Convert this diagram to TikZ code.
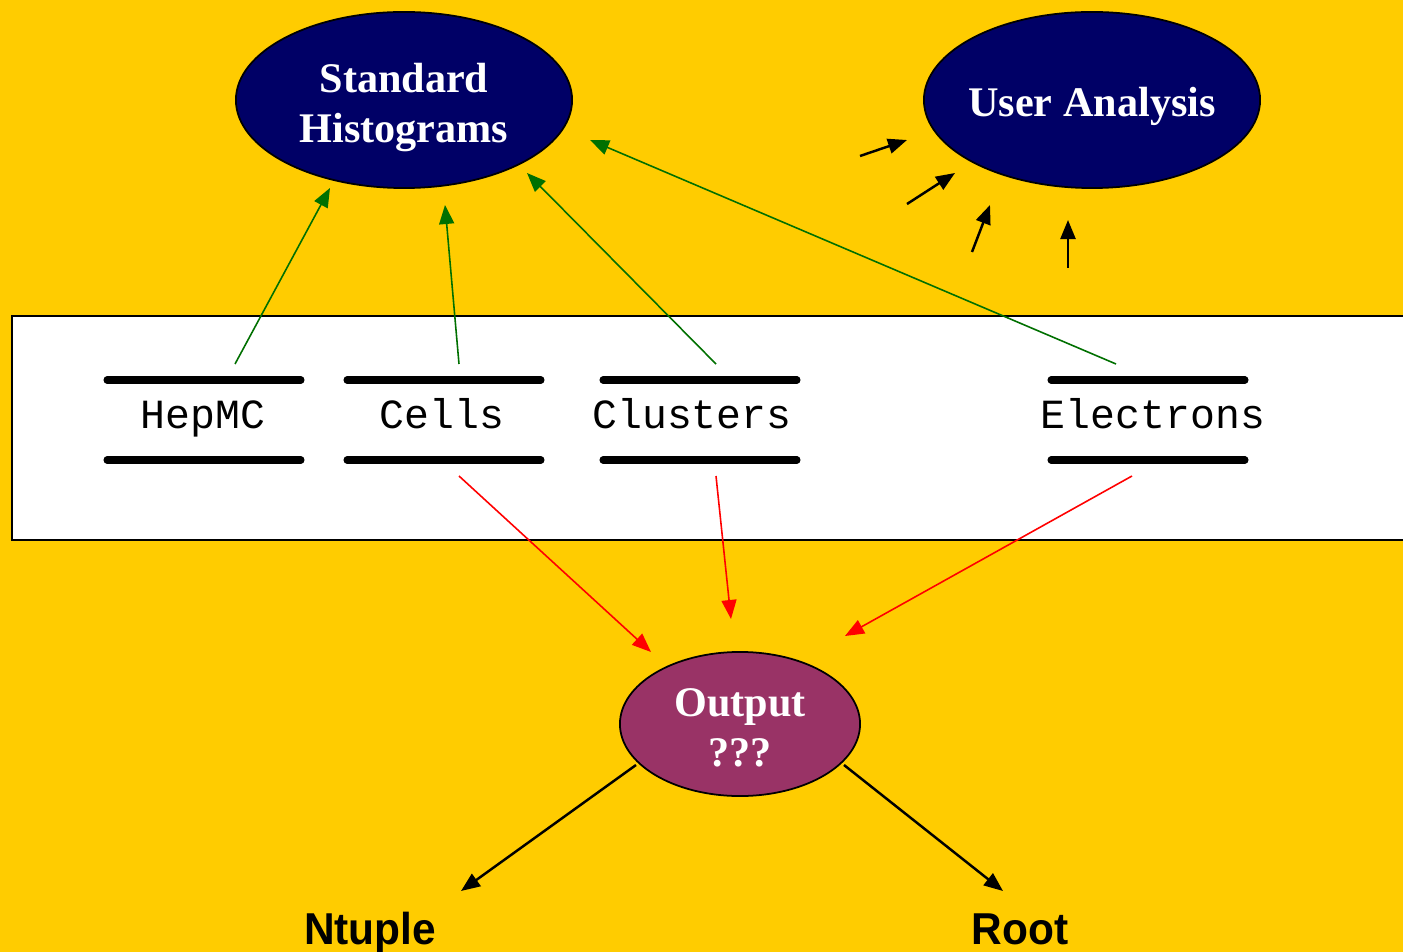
\documentclass[tikz,border=0pt]{standalone}
\usepackage{fontspec}
\setmainfont{Liberation Serif}
\setsansfont{Liberation Sans}
\setmonofont{Liberation Mono}
\usetikzlibrary{shapes.geometric,arrows.meta}

\definecolor{bgyellow}{HTML}{FFCC00}
\definecolor{navyfill}{HTML}{000066}
\definecolor{plumfill}{HTML}{993366}
\definecolor{linkgreen}{HTML}{007000}
\newcommand{\narrowlabel}[1]{\scalebox{0.95}[1]{#1}}

\begin{document}
\begin{tikzpicture}[x=0.01cm,y=-0.01cm,
        blob/.style={ellipse,draw=black,line width=0.5pt,inner sep=0pt,
            text=white,align=center,font=\fontsize{12}{14.3}\selectfont\bfseries},
        store/.style={anchor=base,inner sep=0pt,
            font=\fontsize{11.8}{14}\selectfont\ttfamily},
        bar/.style={line width=2pt,line cap=round},
        fill arrow/.style={-{Triangle[length=1.9mm,width=1.5mm]}},
        toplot/.style={fill arrow,draw=linkgreen,line width=0.45pt},
        tofile/.style={fill arrow,draw=red,line width=0.45pt},
        touser/.style={fill arrow,draw=black,line width=0.7pt},
        outlabel/.style={anchor=base,inner sep=0pt,font=\fontsize{12.7}{14}\selectfont\sffamily\bfseries}]
                \useasboundingbox (0,0) rectangle (1403,952);
                \clip (0,0) rectangle (1403,952);
                \fill[bgyellow] (0,0) rectangle (1403,952);
                \draw[fill=white,line width=0.5pt] (12,316) rectangle (1420,540);

                % ellipses
                \node[blob,fill=navyfill,minimum width=3.36cm,minimum height=1.76cm]
                    (hist) at (404,100) {\rule{0pt}{12.5pt}Standard\\Histograms};
                \node[blob,fill=navyfill,minimum width=3.36cm,minimum height=1.76cm,inner xsep=-0.07cm]
                    (user) at (1092,100) {\rule{0pt}{11.8pt}User Analysis};
                \node[blob,fill=plumfill,minimum width=2.4cm,minimum height=1.44cm]
                    (output) at (740,724) {\rule{0pt}{10pt}Output\\???};

                % stores
                \node[store] (hepmc) at (203,429) {HepMC};
                \node[store] (cells) at (442,429) {Cells};
                \node[store] (clusters) at (692,429) {Clusters};
                \node[store] (electrons) at (1153,429) {Electrons};
                \foreach \s/\dx in {hepmc/1,cells/2,clusters/8,electrons/-5}{
                    \draw[bar] (\s.base) ++(\dx-97,-49) -- ++(194,0);
                    \draw[bar] (\s.base) ++(\dx-97,31) -- ++(194,0);
                }

                \node[outlabel] (ntuple) at (370,944) {\narrowlabel{Ntuple}};
                \node[outlabel] (root) at (1020,944) {\narrowlabel{Root}};

                % arrow ends
                \coordinate (hepmcUp) at (235,364);
                \coordinate (cellsUp) at (459,364);
                \coordinate (clustersUp) at (716,364);
                \coordinate (electronsUp) at (1116,364);
                \coordinate (cellsDown) at (459,476);
                \coordinate (clustersDown) at (716,476);
                \coordinate (electronsDown) at (1132,476);
                \coordinate (histA) at (330,188);
                \coordinate (histB) at (445,205);
                \coordinate (histC) at (527,173);
                \coordinate (histD) at (590,140);
                \coordinate (outA) at (651,652);
                \coordinate (outB) at (731,619);
                \coordinate (outC) at (845,636);
                \coordinate (outL) at (636,765);
                \coordinate (outR) at (844,765);
                \coordinate (ntupleUp) at (461,891);
                \coordinate (rootUp) at (1003,891);

                \draw[toplot] (hepmcUp) -- (histA);
                \draw[toplot] (cellsUp) -- (histB);
                \draw[toplot] (clustersUp) -- (histC);
                \draw[toplot] (electronsUp) -- (histD);

                \draw[tofile] (cellsDown) -- (outA);
                \draw[tofile] (clustersDown) -- (outB);
                \draw[tofile] (electronsDown) -- (outC);

                \draw[touser] (outL) -- (ntupleUp);
                \draw[touser] (outR) -- (rootUp);

                % loose arrows towards user analysis
                \coordinate (u1) at (860,156);
                \coordinate (u2) at (907,204);
                \coordinate (u3) at (972,252);
                \coordinate (u4) at (1068,268);
                \draw[touser] (u1) -- (907,140);
                \draw[touser] (u2) -- (955,173);
                \draw[touser] (u3) -- (990,205);
                \draw[touser] (u4) -- (1068,220);
            \end{tikzpicture}
\end{document}
